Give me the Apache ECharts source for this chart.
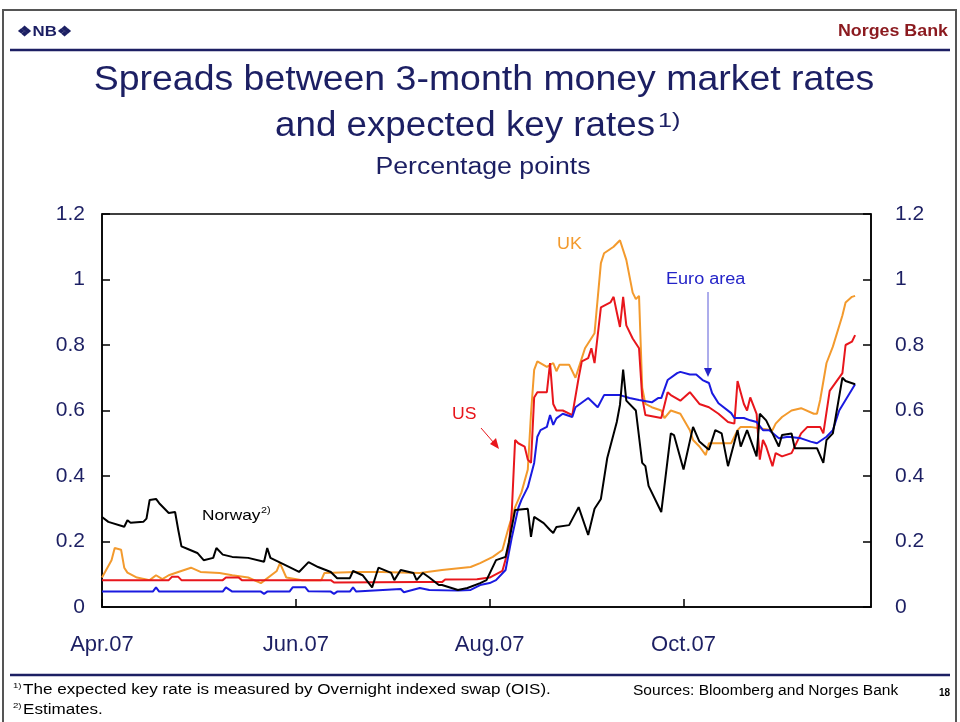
<!DOCTYPE html>
<html>
<head>
<meta charset="utf-8">
<script src="https://cdn.jsdelivr.net/npm/echarts@6/dist/echarts.min.js"></script>
<style>
html,body{margin:0;padding:0;background:#fff;}
#chart{width:960px;height:722px;}
</style>
</head>
<body>
<div id="chart"></div>
<script>
// x values are days since 1 April 2007
const monthTicks = {0: 'Apr.07', 61: 'Jun.07', 122: 'Aug.07', 183: 'Oct.07'};
const yTicks = [0, 0.2, 0.4, 0.6, 0.8, 1, 1.2];

const norwayDays = [0,2,7,8,9,13,14,15,17,18,21,23,24,25,27,30,32,35,36,38,41,46,51,52,53,59,62,65,68,72,74,78,79,82,85,87,91,92,94,98,99,101,103,106,107,112,115,119,121,124,127,128,130,134,135,136,139,141,142,143,147,150,153,155,157,159,162,163,164,165,168,170,171,172,176,179,180,183,186,188,191,193,195,197,200,201,203,206,207,209,211,213,214,217,218,223,225,227,228,230,233,234,237];
const norwayValues = [0.275,0.26,0.245,0.265,0.257,0.26,0.27,0.327,0.33,0.317,0.287,0.29,0.235,0.185,0.177,0.165,0.143,0.15,0.18,0.16,0.153,0.15,0.138,0.18,0.15,0.122,0.107,0.137,0.122,0.107,0.088,0.088,0.11,0.097,0.06,0.12,0.104,0.082,0.113,0.104,0.082,0.104,0.09,0.067,0.067,0.052,0.058,0.073,0.082,0.143,0.153,0.196,0.296,0.30,0.214,0.275,0.256,0.235,0.226,0.244,0.25,0.305,0.22,0.30,0.33,0.455,0.565,0.617,0.725,0.63,0.60,0.44,0.43,0.37,0.29,0.53,0.525,0.42,0.55,0.505,0.48,0.54,0.53,0.43,0.54,0.49,0.54,0.46,0.59,0.57,0.53,0.49,0.525,0.53,0.485,0.485,0.485,0.44,0.51,0.53,0.70,0.69,0.68];

const usDays = [0,21,22,24,25,38,39,43,44,72,73,100,107,108,118,122,126,128,129,130,131,133,134,135,136,137,140,141,142,143,145,148,150,151,153,154,155,157,160,161,162,163,164,165,167,169,170,171,176,178,179,182,185,188,191,194,197,199,200,202,203,204,206,207,208,209,211,212,214,217,220,222,226,227,229,233,234,236,237];
const usValues = [0.082,0.082,0.092,0.092,0.082,0.082,0.09,0.09,0.082,0.082,0.075,0.076,0.076,0.084,0.085,0.09,0.11,0.18,0.30,0.51,0.50,0.49,0.45,0.44,0.64,0.656,0.656,0.745,0.62,0.60,0.60,0.586,0.70,0.75,0.76,0.79,0.745,0.915,0.93,0.947,0.90,0.855,0.947,0.86,0.82,0.79,0.64,0.586,0.577,0.656,0.647,0.63,0.656,0.62,0.61,0.59,0.565,0.56,0.69,0.62,0.60,0.64,0.59,0.45,0.51,0.49,0.43,0.47,0.46,0.47,0.53,0.55,0.55,0.53,0.66,0.714,0.80,0.81,0.83];

const ukDays = [0,3,4,6,7,8,11,15,17,19,21,24,28,31,37,41,46,50,55,56,58,63,69,70,80,88,100,107,116,119,123,126,128,130,132,134,135,136,137,140,142,143,144,147,149,151,152,155,157,158,161,163,165,167,168,169,170,171,173,176,177,179,182,185,186,188,190,191,194,198,200,201,204,211,212,214,217,220,224,225,226,228,230,233,234,236,237];
const ukValues = [0.09,0.143,0.18,0.175,0.12,0.105,0.09,0.082,0.097,0.085,0.097,0.107,0.12,0.107,0.104,0.097,0.09,0.073,0.11,0.134,0.09,0.082,0.082,0.104,0.107,0.107,0.104,0.113,0.122,0.134,0.153,0.174,0.244,0.305,0.35,0.42,0.59,0.724,0.75,0.733,0.745,0.72,0.74,0.74,0.70,0.76,0.79,0.836,1.05,1.08,1.10,1.12,1.06,0.96,0.94,0.95,0.67,0.62,0.61,0.60,0.577,0.60,0.59,0.54,0.51,0.49,0.464,0.50,0.50,0.50,0.54,0.55,0.55,0.54,0.56,0.58,0.60,0.607,0.59,0.59,0.632,0.745,0.795,0.89,0.93,0.947,0.95];

const euroDays = [0,16,17,18,38,39,41,50,51,52,59,60,64,65,72,73,74,78,79,80,94,95,100,103,112,116,119,122,124,127,129,131,132,134,136,137,138,140,141,142,143,145,148,149,153,156,158,163,166,169,173,175,176,178,181,182,185,187,189,191,192,194,198,199,202,204,206,208,210,213,216,220,223,225,228,230,232,234,237];
const euroValues = [0.047,0.047,0.06,0.047,0.047,0.06,0.047,0.047,0.04,0.047,0.047,0.06,0.06,0.048,0.047,0.04,0.047,0.047,0.06,0.047,0.055,0.045,0.058,0.052,0.05,0.052,0.067,0.073,0.082,0.113,0.214,0.302,0.327,0.366,0.44,0.52,0.54,0.55,0.586,0.556,0.576,0.59,0.58,0.61,0.638,0.61,0.647,0.647,0.638,0.632,0.625,0.638,0.638,0.693,0.714,0.718,0.71,0.71,0.693,0.684,0.653,0.622,0.592,0.577,0.577,0.57,0.565,0.54,0.54,0.515,0.52,0.515,0.505,0.50,0.52,0.54,0.60,0.632,0.68];

const zip = (a, b) => a.map((d, i) => [d, b[i]]);

const NAVY = '#1c1f63';
const FONT = '"Liberation Sans", Arial, sans-serif';
const NARROW = '"Liberation Sans Narrow", "Liberation Sans", sans-serif';

const chart = echarts.init(document.getElementById('chart'), null, {renderer: 'canvas'});

const valueAxisBase = {
  type: 'value', min: 0, max: 1.2, interval: 0.2,
  axisLine: {show: true, lineStyle: {color: '#000', width: 1.5}},
  axisTick: {show: true, inside: true, length: 8, lineStyle: {color: '#000', width: 1.5}},
  splitLine: {show: false},
  axisLabel: {color: NAVY, fontSize: 21, fontFamily: FONT,
    formatter: v => yTicks.indexOf(Math.round(v * 10) / 10) >= 0 ? String(Math.round(v * 10) / 10) : ''}
};

function lineSeries(name, days, vals, color, z) {
  return {
    name, type: 'line', data: zip(days, vals), showSymbol: false, z,
    lineStyle: {color, width: 2}, silent: true
  };
}

function txt(x, y, text, font, fill, align, sx) {
  return {type: 'text', x, y, scaleX: sx || 1, style: {text, font, fill, textAlign: align || 'left'}, silent: true};
}

chart.setOption({
  animation: false,
  backgroundColor: '#fff',
  grid: {left: 102, right: 89, top: 214, bottom: 115, show: true, borderColor: '#000', borderWidth: 1.5, containLabel: false},
  xAxis: {
    type: 'value', min: 0, max: 242, interval: 61,
    axisLine: {show: true, lineStyle: {color: '#000', width: 1.5}},
    axisTick: {show: true, inside: true, length: 8, lineStyle: {color: '#000', width: 1.5}},
    splitLine: {show: false},
    axisLabel: {color: NAVY, fontSize: 22, fontFamily: FONT, margin: 27, showMaxLabel: false,
      formatter: v => monthTicks[v] || ''}
  },
  yAxis: [
    Object.assign({}, valueAxisBase, {position: 'left', axisLabel: Object.assign({}, valueAxisBase.axisLabel, {margin: 17})}),
    Object.assign({}, valueAxisBase, {position: 'right', axisLabel: Object.assign({}, valueAxisBase.axisLabel, {margin: 24})})
  ],
  series: [
    lineSeries('UK', ukDays, ukValues, '#f39a2d', 2),
    lineSeries('US', usDays, usValues, '#e8161c', 3),
    lineSeries('Euro area', euroDays, euroValues, '#1a1ae0', 4),
    lineSeries('Norway', norwayDays, norwayValues, '#000000', 5)
  ],
  graphic: [
    // frame
    {type: 'rect', shape: {x: 3, y: 10, width: 953, height: 720}, style: {fill: 'none', stroke: '#555', lineWidth: 2}, silent: true},
    {type: 'line', shape: {x1: 10, y1: 50, x2: 950, y2: 50}, style: {stroke: NAVY, lineWidth: 2.5}},
    {type: 'line', shape: {x1: 10, y1: 675, x2: 950, y2: 675}, style: {stroke: NAVY, lineWidth: 2.5}},
    // header
    txt(17, 25, '\u2756NB\u2756', 'bold 14px ' + NARROW, NAVY, 'left', 1.2),
    txt(948, 23, 'Norges Bank', 'bold 17px ' + NARROW, '#8b1a1f', 'right', 1.05),
    // titles
    txt(484, 63, 'Spreads between 3-month money market rates', '35px ' + FONT, NAVY, 'center', 1.07),
    txt(655, 109, 'and expected key rates', '35px ' + FONT, NAVY, 'right', 1.05),
    txt(658, 111, '1)', '21px ' + FONT, NAVY, 'left', 1.2),
    txt(483, 156, 'Percentage points', '23px ' + FONT, NAVY, 'center', 1.16),
    // annotations
    txt(557, 237, 'UK', '16px ' + FONT, '#f39a2d', 'left', 1.12),
    txt(666, 272, 'Euro area', '16px ' + FONT, '#2424c8', 'left', 1.13),
    {type: 'line', shape: {x1: 708, y1: 292, x2: 708, y2: 370}, style: {stroke: '#5a5ad8', lineWidth: 1}},
    {type: 'polygon', shape: {points: [[704, 368], [712, 368], [708, 377]]}, style: {fill: '#2424c8'}},
    txt(452, 407, 'US', '16px ' + FONT, '#e8161c', 'left', 1.1),
    {type: 'line', shape: {x1: 481, y1: 428, x2: 494, y2: 443}, style: {stroke: '#e8161c', lineWidth: 1}},
    {type: 'polygon', shape: {points: [[490, 444], [496, 438], [499, 449]]}, style: {fill: '#e8161c'}},
    txt(202, 508, 'Norway', '15px ' + FONT, '#000', 'left', 1.15),
    txt(261, 506, '2)', '9px ' + FONT, '#000', 'left', 1.2),
    // footnotes
    txt(13, 682, '1)', '8px ' + FONT, '#000', 'left', 1.2),
    txt(23, 683, 'The expected key rate is measured by Overnight indexed swap (OIS).', '14px ' + FONT, '#000', 'left', 1.22),
    txt(13, 702, '2)', '8px ' + FONT, '#000', 'left', 1.2),
    txt(23, 703, 'Estimates.', '14px ' + FONT, '#000', 'left', 1.22),
    txt(633, 684, 'Sources: Bloomberg and Norges Bank', '14px ' + FONT, '#000', 'left', 1.11),
    txt(939, 688, '18', 'bold 10px ' + FONT, '#000', 'left', 1)
  ]
});
</script>
</body>
</html>
